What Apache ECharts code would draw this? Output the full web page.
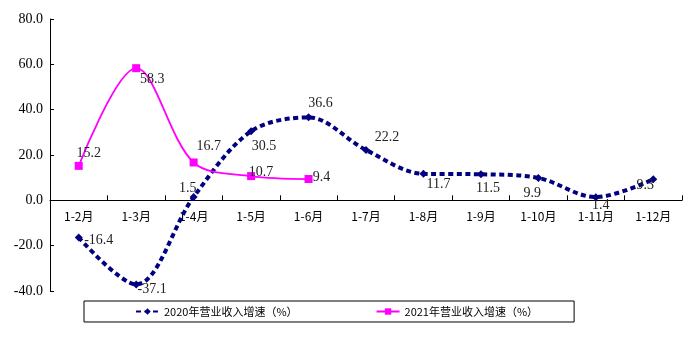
<!DOCTYPE html>
<html>
<head>
<meta charset="utf-8">
<script src="https://cdn.jsdelivr.net/npm/echarts@6/dist/echarts.min.js"></script>
<style>
  html, body { margin: 0; padding: 0; background: #fff; }
  #chart { width: 686px; height: 345px; }
</style>
</head>
<body>
<div id="chart"></div>
<script>
// Months (cumulative periods)
const categories = ['1-2月', '1-3月', '1-4月', '1-5月', '1-6月', '1-7月', '1-8月', '1-9月', '1-10月', '1-11月', '1-12月'];
// Revenue growth, %
const growth2020 = [-16.4, -37.1, 1.5, 30.5, 36.6, 22.2, 11.7, 11.5, 9.9, 1.4, 9.3];
const growth2021 = [15.2, 58.3, 16.7, 10.7, 9.4];
const seriesNames = ['2020年营业收入增速（%）', '2021年营业收入增速（%）'];
const yTicks = { min: -40, max: 80, step: 20 };

// Label placement relative to each point (px)
const labelShift2020 = [[20, 3], [16, 5], [-6, -9], [13, 15], [12, -14], [21, -13], [15, 11], [7, 14], [-6, 15], [5, 8], [-8, 6]];
const labelShift2021 = [[10, -13], [16, 11], [15, -16], [10, -4], [13, -2]];

const numFont = '"Liberation Serif", "Noto Sans CJK SC", serif';
const cjkFont = '"Noto Sans CJK SC", sans-serif';

function withLabels(values, shifts) {
  return values.map((v, i) => ({
    value: v,
    label: { offset: shifts[i] }
  }));
}

const chart = echarts.init(document.getElementById('chart'), null, { renderer: 'canvas' });
chart.setOption({
  animation: false,
  backgroundColor: '#ffffff',
  grid: { left: 50, right: 4, top: 19, bottom: 54, containLabel: false },
  legend: {
    left: 84,
    top: 301,
    padding: [5, 36, 5, 51],
    itemGap: 78,
    itemWidth: 23,
    itemHeight: 8,
    borderColor: '#000',
    borderWidth: 1,
    borderRadius: 0,
    textStyle: { fontFamily: cjkFont, fontSize: 11, color: '#000' },
    data: seriesNames
  },
  xAxis: {
    type: 'category',
    data: categories,
    boundaryGap: true,
    axisLine: { onZero: true, lineStyle: { color: '#000', width: 1 } },
    axisTick: { show: true, inside: true, length: 5, lineStyle: { color: '#000' } },
    // labels sit just under the zero line
    axisLabel: { margin: -81, fontFamily: cjkFont, fontSize: 12, color: '#000' },
    splitLine: { show: false }
  },
  yAxis: {
    type: 'value',
    min: yTicks.min,
    max: yTicks.max,
    interval: yTicks.step,
    axisLine: { show: true, lineStyle: { color: '#000', width: 1 } },
    axisTick: { show: true, inside: true, length: 4, lineStyle: { color: '#000' } },
    axisLabel: {
      margin: 7,
      fontFamily: numFont,
      fontSize: 14,
      color: '#000',
      formatter: v => v.toFixed(1)
    },
    splitLine: { show: false }
  },
  series: [
    {
      name: seriesNames[0],
      type: 'line',
      smooth: 0.33,
      data: withLabels(growth2020, labelShift2020),
      symbol: 'diamond',
      symbolSize: 8,
      itemStyle: { color: '#000080' },
      lineStyle: { color: '#000080', width: 4, type: [5, 3.5] },
      label: {
        show: true,
        position: 'inside',
        fontFamily: numFont,
        fontSize: 14,
        color: '#222',
        formatter: p => p.value.toFixed(1)
      },
      z: 2
    },
    {
      name: seriesNames[1],
      type: 'line',
      smooth: 0.33,
      data: withLabels(growth2021, labelShift2021),
      symbol: 'rect',
      symbolSize: 8,
      itemStyle: { color: '#ff00ff' },
      lineStyle: { color: '#ff00ff', width: 1.8 },
      label: {
        show: true,
        position: 'inside',
        fontFamily: numFont,
        fontSize: 14,
        color: '#222',
        formatter: p => p.value.toFixed(1)
      },
      z: 3
    }
  ]
});
</script>
</body>
</html>
